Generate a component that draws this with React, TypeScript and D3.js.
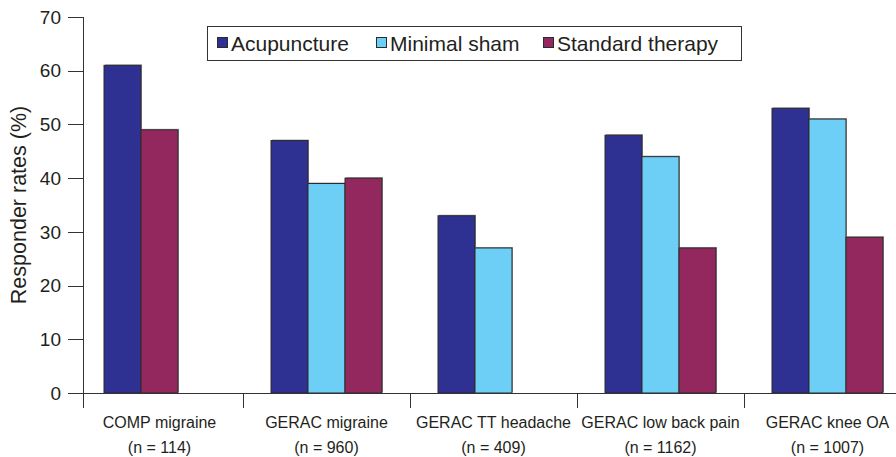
import React from "react";
import * as d3 from "d3";

const categories = ["COMP migraine", "GERAC migraine", "GERAC TT headache", "GERAC low back pain", "GERAC knee OA"];
const sampleSizes = ["(n = 114)", "(n = 960)", "(n = 409)", "(n = 1162)", "(n = 1007)"];
const seriesNames = ["Acupuncture", "Minimal sham", "Standard therapy"];
const acupuncture = [61, 47, 33, 48, 53];
const minimalSham: (number | null)[] = [null, 39, 27, 44, 51];
const standardTherapy: (number | null)[] = [49, 40, null, 27, 29];
const yTicks = [0, 10, 20, 30, 40, 50, 60, 70];
const colors = ["#2e3192", "#6dcff6", "#93285e"];

const W = 896;
const H = 457;
const FONT = "'Liberation Sans', Arial, Helvetica, sans-serif";
const TEXT = "#231f20";
const AXIS = "#333";

export default function App() {
  const y = d3.scaleLinear().domain([0, 70]).range([393, 17]);
  const x = d3.scaleBand<string>().domain(categories).range([76, 911]).paddingInner(0).paddingOuter(0);
  const slot = d3.scaleBand<number>().domain([0, 1, 2]).range([0, x.bandwidth()]).paddingInner(0).paddingOuter(0.757);
  const series = [acupuncture, minimalSham, standardTherapy];

  const bars: { key: string; x: number; y: number; w: number; h: number; color: string }[] = [];
  categories.forEach((c, ci) => {
    let k = 0;
    series.forEach((s, si) => {
      const v = s[ci];
      if (v == null) return;
      const bx = (x(c) as number) + (slot(k) as number);
      bars.push({ key: `${ci}-${si}`, x: bx, y: y(v), w: slot.bandwidth(), h: y(0) - y(v), color: colors[si] });
      k++;
    });
  });

  const legendItems = [
    { x: 217, tx: 231 },
    { x: 376, tx: 390 },
    { x: 543, tx: 557 },
  ];

  return (
    <svg width={W} height={H} style={{ position: "absolute", left: 0, top: 0, background: "#fff" }} fontFamily={FONT}>
      {/* bars */}
      {bars.map((b) => (
        <g key={b.key}>
          <rect x={b.x + 1} y={b.y - 1} width={b.w} height={b.h} fill="#a0a0a0" />
          <rect x={b.x} y={b.y} width={b.w} height={b.h} fill={b.color} stroke="#2b2b2b" strokeWidth={1} />
        </g>
      ))}
      {/* y axis */}
      <line x1={83.5} x2={83.5} y1={y(70)} y2={408} stroke={AXIS} strokeWidth={1} />
      {yTicks.map((t) => (
        <g key={t}>
          <line x1={68} x2={83.5} y1={Math.round(y(t)) + 0.5} y2={Math.round(y(t)) + 0.5} stroke={AXIS} strokeWidth={1} />
          <text x={61} y={y(t)} dy="0.35em" textAnchor="end" fontSize={19} fill={TEXT}>
            {t}
          </text>
        </g>
      ))}
      <text
        transform={`translate(${26},${(y(0) + y(70)) / 2}) rotate(-90)`}
        textAnchor="middle"
        fontSize={21.5}
        fill={TEXT}
      >
        Responder rates (%)
      </text>
      {/* x axis */}
      <line x1={68} x2={W} y1={393.5} y2={393.5} stroke={AXIS} strokeWidth={1} />
      {categories.slice(1).map((c) => (
        <line key={c} x1={Math.round(x(c) as number) + 0.5} x2={Math.round(x(c) as number) + 0.5} y1={393.5} y2={408} stroke={AXIS} strokeWidth={1} />
      ))}
      {categories.map((c, i) => (
        <g key={c}>
          <text x={(x(c) as number) + x.bandwidth() / 2} y={428} textAnchor="middle" fontSize={16} fill={TEXT}>
            {c}
          </text>
          <text x={(x(c) as number) + x.bandwidth() / 2} y={453} textAnchor="middle" fontSize={16} fill={TEXT}>
            {sampleSizes[i]}
          </text>
        </g>
      ))}
      {/* legend */}
      <rect x={207.5} y={26.5} width={534} height={34} fill="#fff" stroke={AXIS} strokeWidth={1} />
      {seriesNames.map((n, i) => (
        <g key={n}>
          <rect x={legendItems[i].x + 0.5} y={37.5} width={10} height={10} fill={colors[i]} stroke="#2b2b2b" strokeWidth={1} />
          <text x={legendItems[i].tx} y={50.5} fontSize={21} fill={TEXT}>
            {n}
          </text>
        </g>
      ))}
    </svg>
  );
}
